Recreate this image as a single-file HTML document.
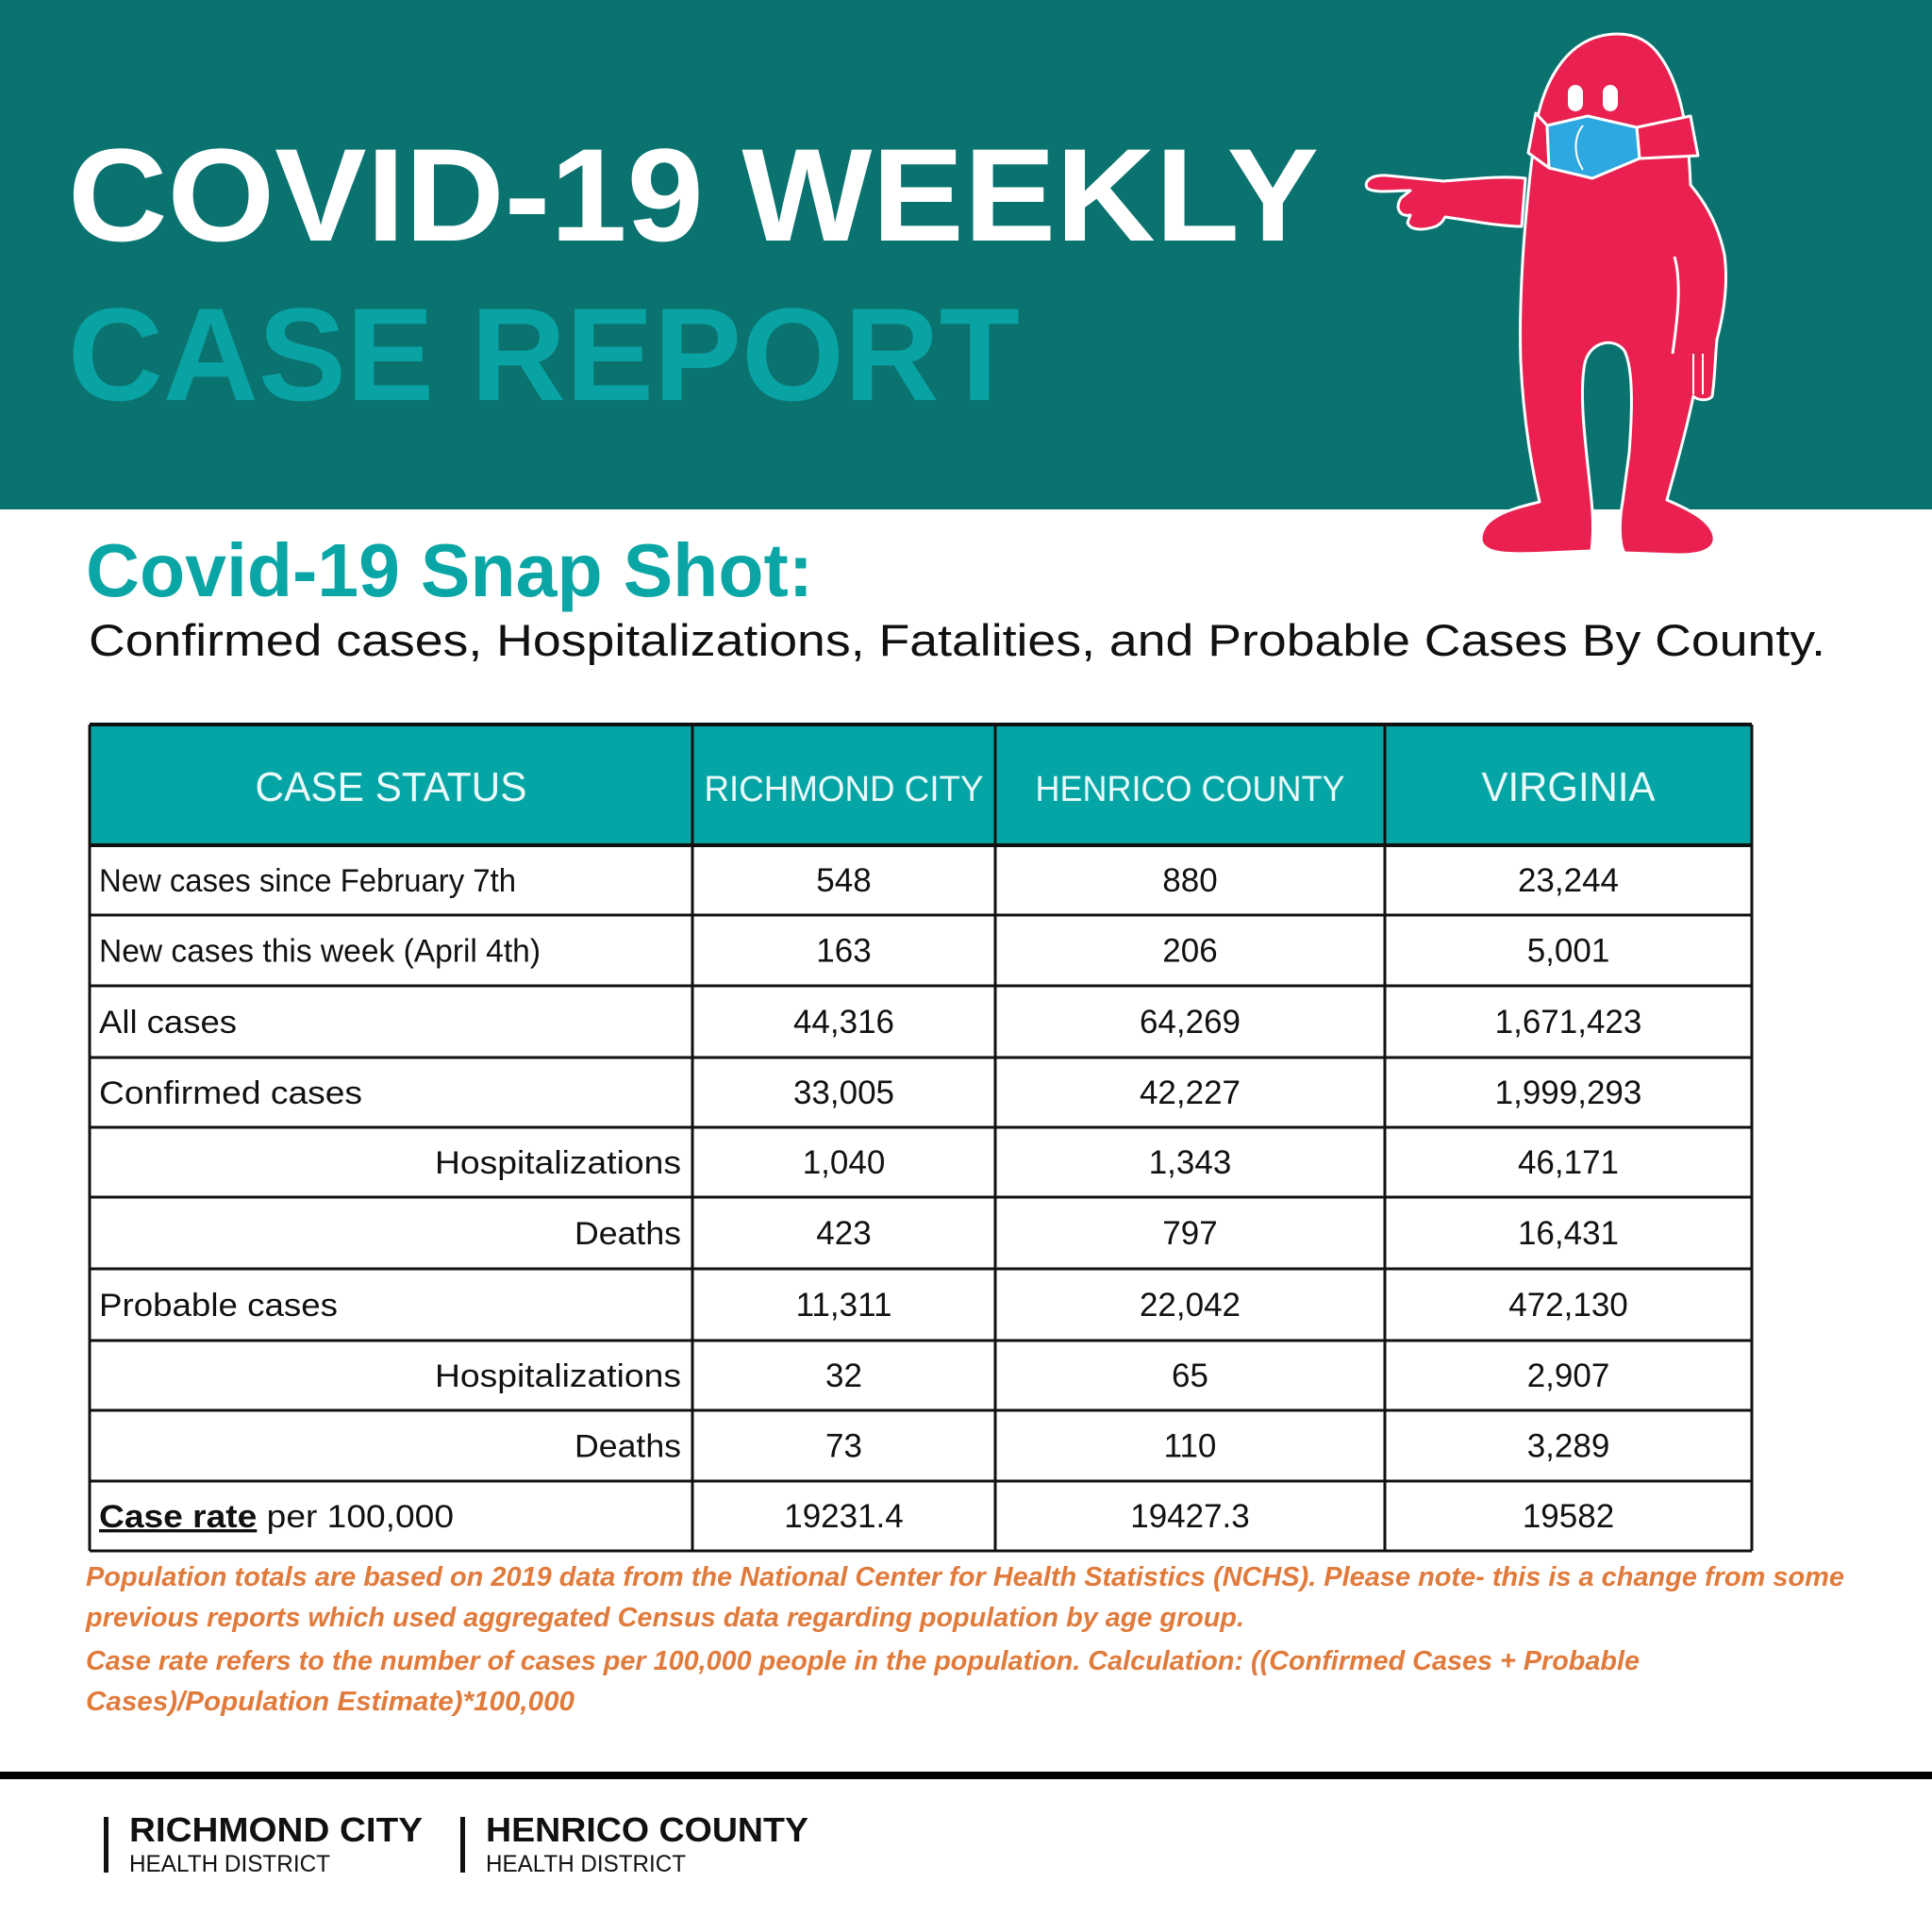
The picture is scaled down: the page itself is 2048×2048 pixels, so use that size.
<!DOCTYPE html>
<html><head><meta charset="utf-8"><style>
html,body{margin:0;padding:0;background:#fff}
svg{display:block}
text{font-family:"Liberation Sans",sans-serif}
</style></head><body>
<svg id="root" width="2048" height="2048" viewBox="0 0 2048 2048" xmlns="http://www.w3.org/2000/svg">
<rect x="0" y="0" width="2048" height="540" fill="#0a7370"/>
<text x="72" y="255" font-size="140" font-weight="bold" fill="#fff" textLength="1326" lengthAdjust="spacingAndGlyphs">COVID-19 WEEKLY</text>
<text x="72" y="424" font-size="140" font-weight="bold" fill="#0aa3a3" textLength="1009" lengthAdjust="spacingAndGlyphs">CASE REPORT</text>

<g stroke="#fff" stroke-width="3" stroke-linejoin="round">
<path d="M1617,189 C1590,186 1560,190 1530,192 L1470,186 C1450,185 1445,195 1450,200 C1458,205 1480,202 1495,202 L1485,210 C1478,222 1485,230 1495,228 L1492,236 C1495,245 1510,244 1522,240 C1530,236 1530,232 1532,230 C1560,234 1590,240 1613,240 Z" fill="#e92050"/>
<path d="M1715,36 C1660,36 1630,90 1625,160 C1615,240 1610,320 1612,383 C1615,450 1625,500 1632,532 C1600,540 1570,548 1570,572 C1572,588 1600,588 1640,586 L1687,584 C1690,560 1688,540 1687,530 C1682,480 1673,420 1680,385 C1686,360 1713,358 1722,372 C1732,392 1730,440 1727,480 L1720,532 C1715,560 1718,580 1722,586 L1780,588 C1815,588 1820,576 1816,565 C1810,550 1790,540 1767,530 C1775,500 1787,460 1795,420 C1800,425 1812,425 1815,420 C1818,400 1818,380 1820,360 C1828,330 1832,300 1828,270 C1822,240 1808,215 1792,196 C1790,140 1782,90 1760,60 C1750,45 1735,36 1715,36 Z" fill="#e92050"/>
<path d="M1775,272 C1783,300 1778,340 1773,375" fill="none"/>
<path d="M1795,375 L1795,418 M1805,375 L1805,418" fill="none" stroke-width="2"/>
<rect x="1662" y="90" width="16" height="28" rx="8" fill="#fff" stroke="none"/>
<rect x="1699" y="90" width="16" height="28" rx="8" fill="#fff" stroke="none"/>
<path d="M1735,135 L1792,123 L1800,165 L1738,168 Z" fill="#e92050"/>
<path d="M1640,133 L1628,120 L1620,162 L1642,178 Z" fill="#e92050"/>
<path d="M1640,133 L1683,123 L1735,135 L1738,168 L1688,189 L1642,178 Z" fill="#2ea8e0"/>
<path d="M1678,133 C1668,145 1668,165 1678,180" fill="none" stroke-width="2"/>
</g>

<text x="91" y="632" font-size="80" font-weight="bold" fill="#0aa5a5" textLength="771" lengthAdjust="spacingAndGlyphs">Covid-19 Snap Shot:</text>
<text x="94" y="695" font-size="47" fill="#111" textLength="1841" lengthAdjust="spacingAndGlyphs">Confirmed cases, Hospitalizations, Fatalities, and Probable Cases By County.</text>

<g id="table"></g>

<g fill="#e07b3c" font-style="italic" font-weight="bold" font-size="29">
<text x="91" y="1681" textLength="1864" lengthAdjust="spacingAndGlyphs">Population totals are based on 2019 data from the National Center for Health Statistics (NCHS). Please note- this is a change from some</text>
<text x="91" y="1724" textLength="1228" lengthAdjust="spacingAndGlyphs">previous reports which used aggregated Census data regarding population by age group.</text>
<text x="91" y="1770" textLength="1647" lengthAdjust="spacingAndGlyphs">Case rate refers to the number of cases per 100,000 people in the population. Calculation: ((Confirmed Cases + Probable</text>
<text x="91" y="1813" textLength="518" lengthAdjust="spacingAndGlyphs">Cases)/Population Estimate)*100,000</text>
</g>

<rect x="0" y="1878" width="2048" height="8" fill="#000"/>
<g>
<rect x="110" y="1926" width="5" height="59" fill="#111"/>
<text x="137" y="1952" font-size="36" font-weight="bold" fill="#111" textLength="311" lengthAdjust="spacingAndGlyphs">RICHMOND CITY</text>
<text x="137" y="1984" font-size="25" fill="#111" textLength="213" lengthAdjust="spacingAndGlyphs">HEALTH DISTRICT</text>
<rect x="488" y="1926" width="5" height="59" fill="#111"/>
<text x="515" y="1952" font-size="36" font-weight="bold" fill="#111" textLength="342" lengthAdjust="spacingAndGlyphs">HENRICO COUNTY</text>
<text x="515" y="1984" font-size="25" fill="#111" textLength="212" lengthAdjust="spacingAndGlyphs">HEALTH DISTRICT</text>
</g>
</svg>
<script>
const headers = ["CASE STATUS","RICHMOND CITY","HENRICO COUNTY","VIRGINIA"];
const rowLabels = ["New cases since February 7th","New cases this week (April 4th)","All cases","Confirmed cases","Hospitalizations","Deaths","Probable cases","Hospitalizations","Deaths","Case rate per 100,000"];
const richmond = ["548","163","44,316","33,005","1,040","423","11,311","32","73","19231.4"];
const henrico = ["880","206","64,269","42,227","1,343","797","22,042","65","110","19427.3"];
const virginia = ["23,244","5,001","1,671,423","1,999,293","46,171","16,431","472,130","2,907","3,289","19582"];
const indented = [false,false,false,false,true,true,false,true,true,false];

const NS = "http://www.w3.org/2000/svg";
const g = document.getElementById('table');
const colX = [95,734,1055,1468,1857];
const rowY = [768,896,970,1045,1121,1195,1269,1345,1421,1495,1570,1644];
const hdrW = [288,296,328,184];
const labW = [442,468,146,279,261,113,253,261,113,376];
function mk(tag, attrs){const e=document.createElementNS(NS,tag);for(const k in attrs)e.setAttribute(k,attrs[k]);g.appendChild(e);return e;}
const hb = mk('rect',{x:colX[0],y:rowY[0],width:colX[4]-colX[0],height:rowY[1]-rowY[0],fill:'#05a5a6'});


headers.forEach((h,i)=>{
  const cx=(colX[i]+colX[i+1])/2;
  const t=mk('text',{x:cx,y:849,'text-anchor':'middle','font-size':i===0||i===3?44:38,fill:'#eafafa',textLength:hdrW[i],lengthAdjust:'spacingAndGlyphs'});
  t.textContent=h;
  
  
});
const cols=[richmond,henrico,virginia];
rowLabels.forEach((lab,r)=>{
  const y=(rowY[r+1]+rowY[r+2])/2+12;
  let t;
  if(indented[r]){
    t=mk('text',{x:722,y:y,'text-anchor':'end','font-size':34,fill:'#111',textLength:labW[r],lengthAdjust:'spacingAndGlyphs'});
    t.textContent=lab;
  } else if(r===9){
    t=mk('text',{x:105,y:y,'font-size':34,fill:'#111',textLength:labW[r],lengthAdjust:'spacingAndGlyphs'});
    const s=document.createElementNS(NS,'tspan');s.setAttribute('font-weight','bold');s.setAttribute('text-decoration','underline');s.textContent='Case rate';
    t.appendChild(s);t.appendChild(document.createTextNode(' per 100,000'));
  } else {
    t=mk('text',{x:105,y:y,'font-size':34,fill:'#111',textLength:labW[r],lengthAdjust:'spacingAndGlyphs'});
    t.textContent=lab;
  }
  
  
  cols.forEach((c,ci)=>{
    const v=mk('text',{x:(colX[ci+1]+colX[ci+2])/2,y:y,'text-anchor':'middle','font-size':35,fill:'#111'});
    v.textContent=c[r];
    
    
  });
});
rowY.forEach((y,i)=>{
  const l=mk('line',{x1:colX[0],x2:colX[4],y1:y,y2:y,stroke:'#111','stroke-width':i===0||i===1?4:3});
  
  
});
colX.forEach(x=>{
  const l=mk('line',{x1:x,x2:x,y1:rowY[0],y2:rowY[rowY.length-1],stroke:'#111','stroke-width':3});
  
  
});
</script>
</body></html>
